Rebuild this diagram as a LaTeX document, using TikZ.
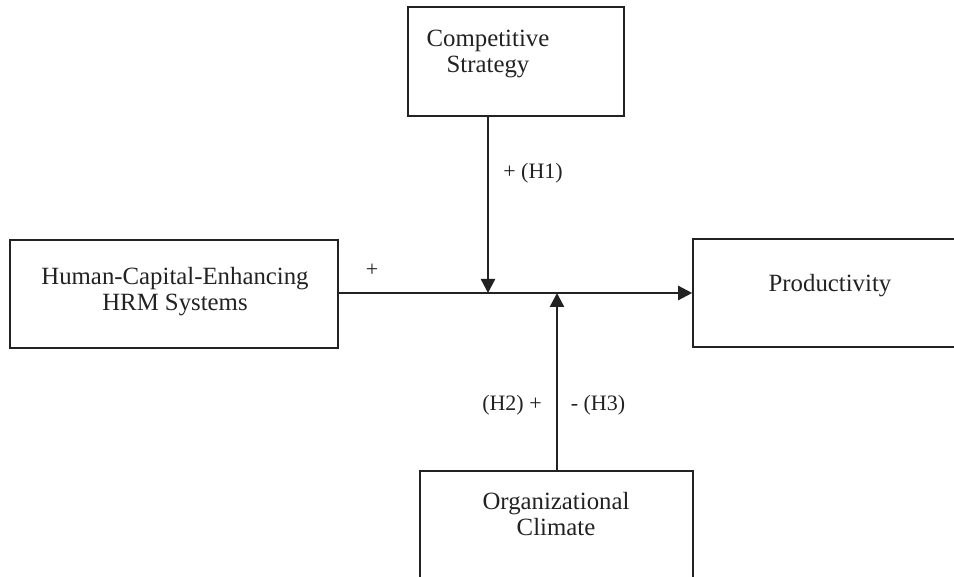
\documentclass[tikz,border=0pt]{standalone}
\usepackage{fontspec}
\setmainfont{Liberation Serif}
\usetikzlibrary{arrows.meta}
\definecolor{ink}{HTML}{222222}
\tikzset{
  box/.style={draw=ink, line width=1.6pt, inner sep=0pt, rectangle},
  txt/.style={text=ink, align=center, inner sep=0pt, font=\fontsize{24.8}{26}\selectfont},
  lbl/.style={text=ink, inner sep=0pt, font=\fontsize{22}{24}\selectfont},
  conn/.style={draw=ink, line width=2.4pt, -{Triangle[length=14pt,width=14pt]}}
}
\begin{document}
\begin{tikzpicture}[x=1pt,y=-1pt]
\useasboundingbox (0,0) rectangle (954,577);
\clip (0,0) rectangle (954,577);
% boxes
\node[box, minimum width=216pt, minimum height=109pt] (comp) at (516,61.5) {};
\node[box, minimum width=328pt, minimum height=108pt] (hrm) at (174,294) {};
\node[box, minimum width=400pt, minimum height=108pt] (prod) at (893,293) {};
\node[box, minimum width=273pt, minimum height=228pt] (org) at (556.5,585) {};
% texts
\node[txt] (compT) at (488,54) {Competitive\\Strategy};
\node[txt] (hrmT) at (175,292) {Human-Capital-Enhancing\\HRM Systems};
\node[txt, anchor=base] (prodT) at (830,292) {Productivity};
\node[txt] (orgT) at (556,514) {Organizational\\Climate};
% junctions
\coordinate (jd) at (488,293);
\coordinate (ju) at (557,293);
% connectors
\draw[conn] (hrm.east |- jd) -- (prod.west |- jd);
\draw[conn] (comp.south -| jd) -- (jd);
\draw[conn] (org.north -| ju) -- (ju);
% labels
\node[lbl, anchor=base] (l1) at (533,179) {+ (H1)};
\node[lbl] (l0) at (372,270) {+};
\node[lbl, anchor=base] (l2) at (512,411) {(H2) +};
\node[lbl, anchor=base] (l3) at (598,411) {- (H3)};
\end{tikzpicture}
\end{document}
